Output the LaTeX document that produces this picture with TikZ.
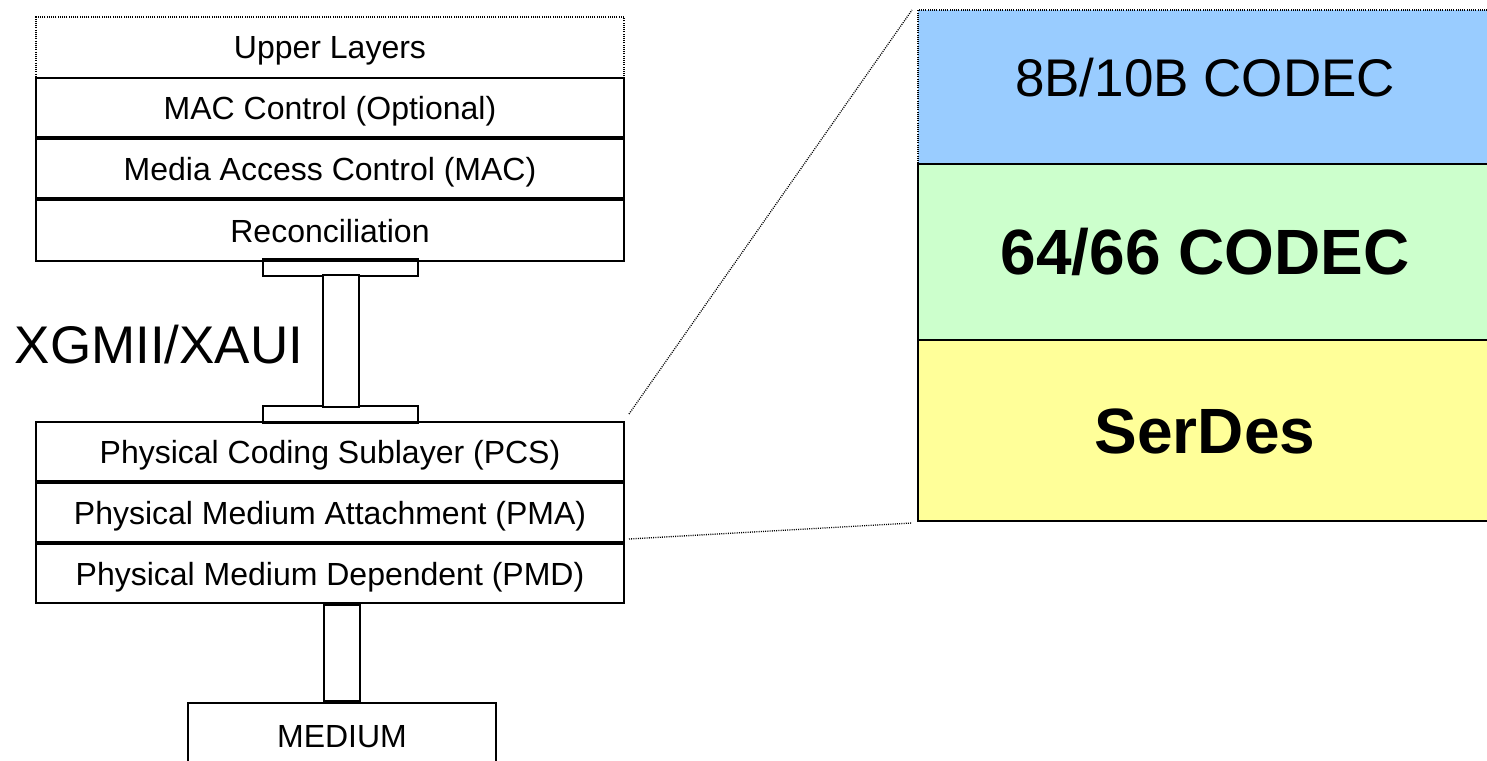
\documentclass[tikz,border=0pt]{standalone}
\usepackage{fontspec}
\setmainfont{Liberation Sans}
\usetikzlibrary{positioning}

\begin{document}
\begin{tikzpicture}
    [
    x=1pt, y=-1pt,
    layer/.style={rectangle,draw,line width=2pt,inner sep=0pt,outer sep=0pt,
        minimum width=588pt,minimum height=59pt,text height=23pt,text depth=0pt,
        font=\fontsize{32}{38}\selectfont},
    upper/.style={layer,draw,line width=1.2pt,dash pattern=on 1pt off 1.2pt,minimum height=61pt},
    plate/.style={rectangle,draw,line width=2pt,inner sep=0pt,outer sep=0pt,
        minimum width=155pt,minimum height=17pt},
    bar/.style={draw,line width=2pt,fill=white},
    block/.style={rectangle,draw,line width=2pt,inner sep=0pt,outer sep=0pt,
        minimum width=574pt,text height=45pt,text depth=0pt,
        font=\fontsize{64}{72}\selectfont\bfseries},
    zoomline/.style={line width=1.3pt,dash pattern=on 1pt off 1.2pt}
    ]
\useasboundingbox (0,0) rectangle (1487,760);
\node[upper] (up) at (330,47.5) {Upper Layers};
\node[layer,below=0pt of up] (macctl) {MAC Control (Optional)};
\node[layer,below=2pt of macctl] (mac) {Media Access Control (MAC)};
\node[layer,below=2pt of mac,minimum height=61pt] (rec) {Reconciliation};
\node[plate] (ptop) at (340.5,267.5) {};
\node[plate] (pbot) at (340.5,414.5) {};
\draw[bar] ([xshift=-18pt,yshift=1pt]ptop.south) rectangle ([xshift=18pt,yshift=-1pt]pbot.north);
\node[font=\fontsize{53}{60}\selectfont,text height=38pt,text depth=0pt,inner sep=0pt] (xgmii) at (159,344) {XGMII/XAUI};
\node[layer] (pcs) at (330,451.5) {Physical Coding Sublayer (PCS)};
\node[layer,below=2pt of pcs] (pma) {Physical Medium Attachment (PMA)};
\node[layer,below=2pt of pma] (pmd) {Physical Medium Dependent (PMD)};
\node[layer,minimum width=308pt,minimum height=66pt] (med) at (342,736) {MEDIUM};
\draw[bar] ([xshift=-18pt,yshift=-2pt]med.north |- pmd.south) rectangle ([xshift=18pt,yshift=2pt]med.north);
\node[block,draw,line width=1.2pt,dash pattern=on 1pt off 1.2pt,fill={rgb,255:red,153;green,204;blue,255},
    minimum height=154pt,text height=38pt,text depth=20pt,font=\fontsize{53}{60}\selectfont] (enc) at (1205,87) {8B/10B CODEC};
\node[block,below=0pt of enc,fill={rgb,255:red,204;green,255;blue,204},minimum height=176pt] (pcsx) {64/66 CODEC};
\node[block,below=0pt of pcsx,fill={rgb,255:red,255;green,255;blue,153},minimum height=181pt] (serdes) {SerDes};
\draw[zoomline] ([shift={(5,-8)}]pcs.north east) -- ([shift={(-6,0)}]enc.north west);
\draw[zoomline] ([shift={(5,-3)}]pma.south east) -- ([shift={(-6,2)}]serdes.south west);
\end{tikzpicture}
\end{document}
